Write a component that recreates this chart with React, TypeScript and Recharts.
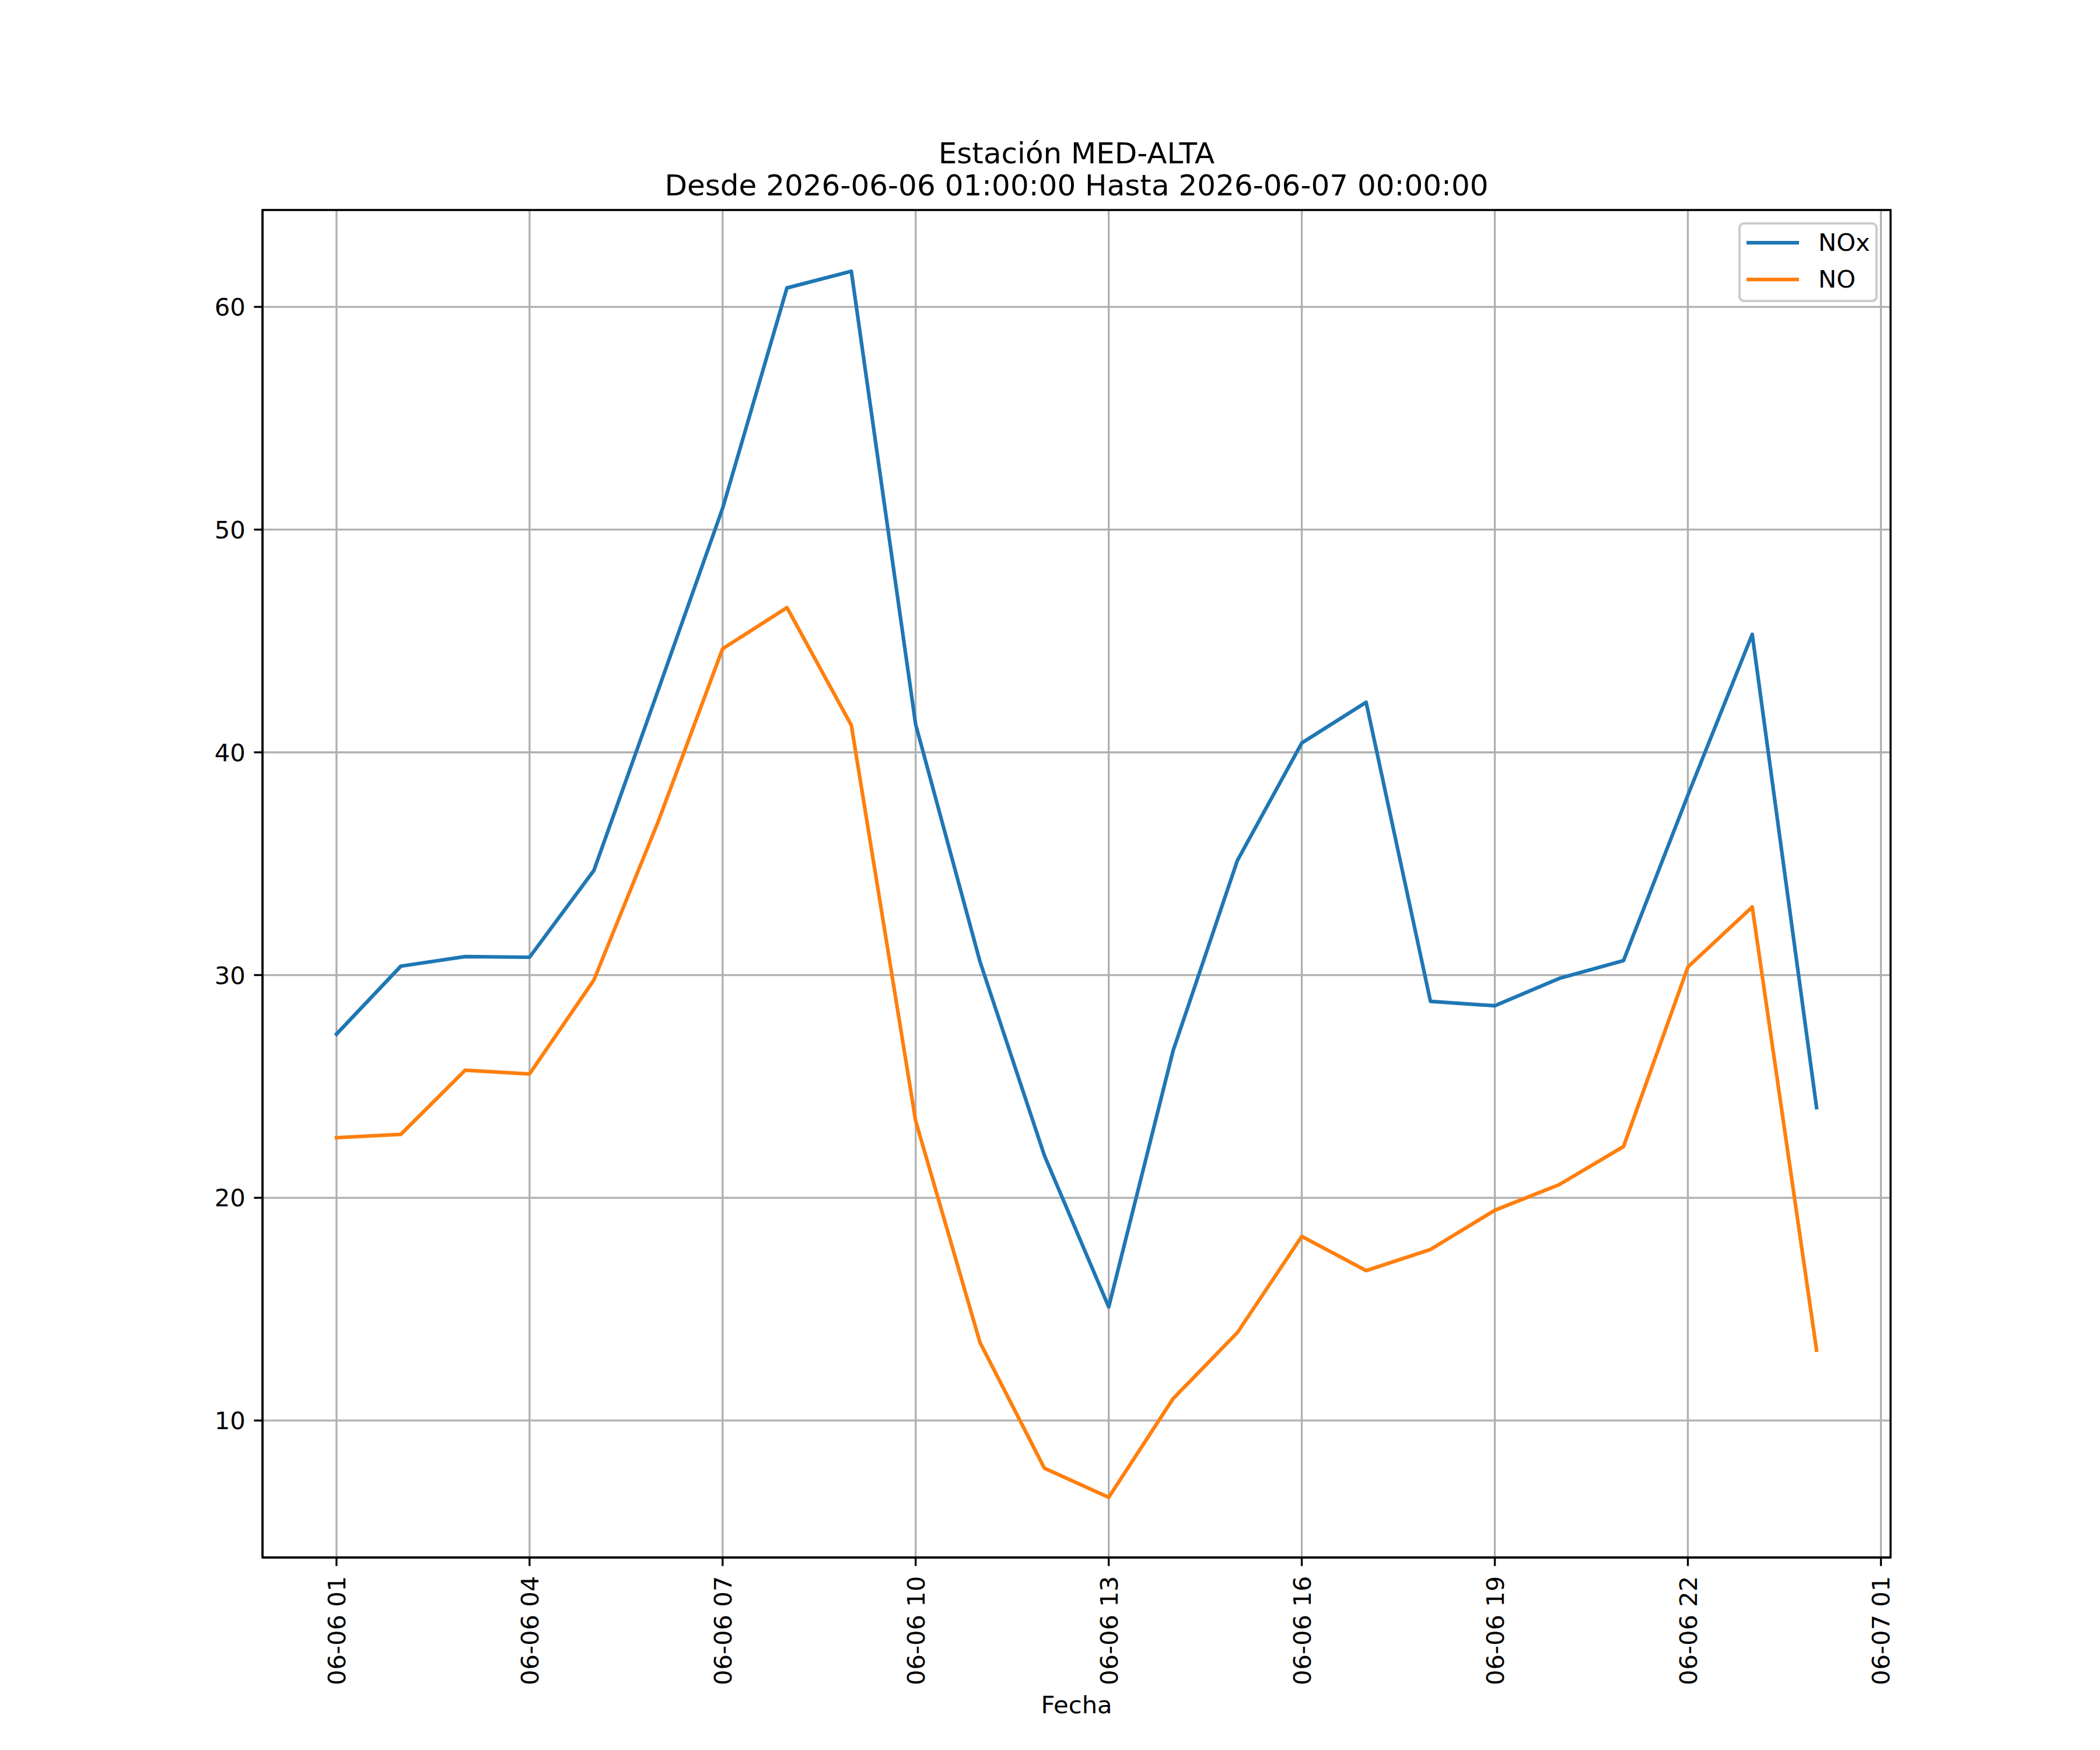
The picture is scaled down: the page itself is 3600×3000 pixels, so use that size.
import React from 'react';
import {
  LineChart, Line, XAxis, YAxis, CartesianGrid, Legend, ReferenceArea,
} from 'recharts';

// hours since 2026-06-06 01:00
const HOURS = [0, 1, 2, 3, 4, 5, 6, 7, 8, 9, 10, 11, 12, 13, 14, 15, 16, 17, 18, 19, 20, 21, 22, 23];
const NOX = [27.35, 30.4, 30.83, 30.8, 34.7, 42.8, 50.96, 60.85, 61.6, 41.25, 30.6, 21.9, 15.1, 26.6, 35.15, 40.42, 42.25, 28.82, 28.62, 29.85, 30.65, 38.08, 45.3, 24.05];
const NO = [22.7, 22.85, 25.73, 25.56, 29.78, 36.9, 44.65, 46.5, 41.22, 23.45, 13.5, 7.86, 6.55, 10.98, 13.95, 18.27, 16.73, 17.68, 19.44, 20.59, 22.3, 30.36, 33.06, 13.16];
const X_TICKS = [0, 3, 6, 9, 12, 15, 18, 21, 24];
const X_TICK_LABELS = ['06-06 01', '06-06 04', '06-06 07', '06-06 10', '06-06 13', '06-06 16', '06-06 19', '06-06 22', '06-07 01'];
const Y_TICKS = [10, 20, 30, 40, 50, 60];

const data = HOURS.map((h, i) => ({ h, nox: NOX[i], no: NO[i] }));

const FONT = 'DejaVu Sans';
const FS = 41.7;
const LW = 3.33;

const XTick = ({ x, y, payload }: any) => {
  const i = X_TICKS.indexOf(payload.value);
  return (
    <text x={x} y={y} transform={`rotate(-90 ${x} ${y})`} textAnchor="end" dy="0.36em"
      fontFamily={FONT} fontSize={FS} fill="#000">
      {X_TICK_LABELS[i]}
    </text>
  );
};

const YTick = ({ x, y, payload }: any) => (
  <text x={x} y={y} textAnchor="end" dy="0.36em" fontFamily={FONT} fontSize={FS} fill="#000">
    {payload.value}
  </text>
);

const renderLegend = () => (
  <svg width={239} height={137} style={{ display: 'block' }}>
    <rect x={2} y={2} width={235} height={133} rx={8} ry={8} fill="#fff" fillOpacity={0.8} stroke="#cccccc" strokeWidth={4.17} />
    <line x1={14} y1={35} x2={104} y2={35} stroke="#1f77b4" strokeWidth={6.25} />
    <text x={137} y={49} fontFamily={FONT} fontSize={FS} fill="#000">NOx</text>
    <line x1={14} y1={98} x2={104} y2={98} stroke="#ff7f0e" strokeWidth={6.25} />
    <text x={137} y={112} fontFamily={FONT} fontSize={FS} fill="#000">NO</text>
  </svg>
);

export default function App() {
  return (
    <div style={{ position: 'absolute', left: 0, top: 0, width: 3600, height: 3000, background: '#fff' }}>
      <LineChart width={3600} height={3000} data={data} margin={{ top: 360, right: 359, left: 350, bottom: 230 }}>
        <CartesianGrid stroke="#b0b0b0" strokeWidth={LW} />
        <XAxis dataKey="h" type="number" domain={[-1.15, 24.15]} ticks={X_TICKS} interval={0}
          allowDataOverflow height={100} tick={<XTick />} tickSize={14.6} tickMargin={17}
          tickLine={{ stroke: '#000', strokeWidth: LW }} axisLine={{ stroke: '#000', strokeWidth: LW }} />
        <YAxis type="number" domain={[3.85, 64.35]} ticks={Y_TICKS} interval={0}
          allowDataOverflow width={100} tick={<YTick />} tickSize={14.6} tickMargin={14.6}
          tickLine={{ stroke: '#000', strokeWidth: LW }} axisLine={{ stroke: '#000', strokeWidth: LW }} />
        <Line type="linear" dataKey="nox" name="NOx" stroke="#1f77b4" strokeWidth={6.25} dot={false}
          strokeLinejoin="round" strokeLinecap="square" isAnimationActive={false} />
        <Line type="linear" dataKey="no" name="NO" stroke="#ff7f0e" strokeWidth={6.25} dot={false}
          strokeLinejoin="round" strokeLinecap="square" isAnimationActive={false} />
        <ReferenceArea x1={-1.15} x2={24.15} y1={3.85} y2={64.35} fill="none" fillOpacity={0}
          stroke="#000" strokeWidth={LW} ifOverflow="visible" />
        <Legend layout="vertical" align="center" verticalAlign="middle"
          wrapperStyle={{ left: 2980, top: 381, width: 239, height: 137 }} content={renderLegend} />
      </LineChart>
      <svg width={3600} height={3000} style={{ position: 'absolute', left: 0, top: 0, pointerEvents: 'none' }}>
        <text x={1845.5} y={280} textAnchor="middle" fontFamily={FONT} fontSize={50} fill="#000">Estación MED-ALTA</text>
        <text x={1845.5} y={335} textAnchor="middle" fontFamily={FONT} fontSize={50} fill="#000">Desde 2026-06-06 01:00:00 Hasta 2026-06-07 00:00:00</text>
        <text x={1845.5} y={2937} textAnchor="middle" fontFamily={FONT} fontSize={FS} fill="#000">Fecha</text>
      </svg>
    </div>
  );
}
